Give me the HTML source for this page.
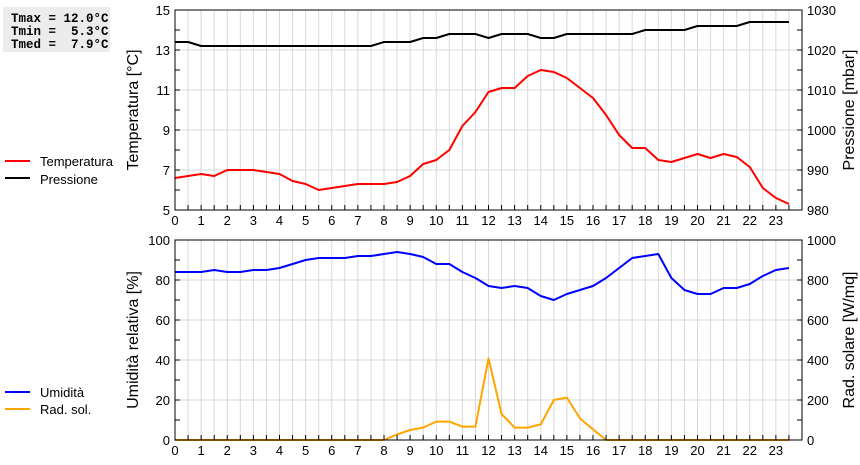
<!DOCTYPE html>
<html><head><meta charset="utf-8"><style>
body{margin:0;background:#fff;width:860px;height:460px;overflow:hidden;font-family:"Liberation Sans",sans-serif}
svg text{font-family:"Liberation Sans",sans-serif}
</style></head><body>
<svg id="c" width="860" height="460" xmlns="http://www.w3.org/2000/svg">
<rect x="3" y="7" width="107" height="45" fill="#ececec"/>
<text x="11" y="22" font-weight="bold" font-size="12.5" style="font-family:'Liberation Mono',monospace;white-space:pre">Tmax = 12.0°C</text>
<text x="11" y="35" font-weight="bold" font-size="12.5" style="font-family:'Liberation Mono',monospace;white-space:pre">Tmin =  5.3°C</text>
<text x="11" y="48" font-weight="bold" font-size="12.5" style="font-family:'Liberation Mono',monospace;white-space:pre">Tmed =  7.9°C</text>
<g>
<line x1="5" y1="161" x2="30" y2="161" stroke="#f00" stroke-width="2"/><text x="40" y="166" font-size="13">Temperatura</text>
<line x1="5" y1="178" x2="30" y2="178" stroke="#000" stroke-width="2"/><text x="40" y="184" font-size="13">Pressione</text>
</g>
<g>
<line x1="5" y1="392" x2="30" y2="392" stroke="#00f" stroke-width="2"/><text x="40" y="397" font-size="13">Umidità</text>
<line x1="5" y1="409" x2="30" y2="409" stroke="#ffa500" stroke-width="2"/><text x="40" y="414" font-size="13">Rad. sol.</text>
</g>
</svg>
<script>
const hours=[0,0.5,1,1.5,2,2.5,3,3.5,4,4.5,5,5.5,6,6.5,7,7.5,8,8.5,9,9.5,10,10.5,11,11.5,12,12.5,13,13.5,14,14.5,15,15.5,16,16.5,17,17.5,18,18.5,19,19.5,20,20.5,21,21.5,22,22.5,23,23.5];
const temperature=[6.6,6.7,6.8,6.7,7.0,7.0,7.0,6.9,6.8,6.45,6.3,6.0,6.1,6.2,6.3,6.3,6.3,6.4,6.7,7.3,7.5,8.0,9.2,9.9,10.9,11.1,11.1,11.7,12.0,11.9,11.6,11.1,10.6,9.75,8.75,8.1,8.1,7.5,7.4,7.6,7.8,7.6,7.8,7.65,7.15,6.1,5.6,5.3];
const pressure=[1022,1022,1021,1021,1021,1021,1021,1021,1021,1021,1021,1021,1021,1021,1021,1021,1022,1022,1022,1023,1023,1024,1024,1024,1023,1024,1024,1024,1023,1023,1024,1024,1024,1024,1024,1024,1025,1025,1025,1025,1026,1026,1026,1026,1027,1027,1027,1027];
const humidity=[84,84,84,85,84,84,85,85,86,88,90,91,91,91,92,92,93,94,93,91.5,88,88,84,81,77,76,77,76,72,70,73,75,77,81,86,91,92,93,81,75,73,73,76,76,78,82,85,86];
const radiation=[0,0,0,0,0,0,0,0,0,0,0,0,0,0,0,0,0,28,50,62,92,92,67,67,408,130,62,62,78,200,212,108,53,0,0,0,0,0,0,0,0,0,0,0,0,0,0,0];
const xTicks=[0,1,2,3,4,5,6,7,8,9,10,11,12,13,14,15,16,17,18,19,20,21,22,23];
const tTicks=[5,7,9,11,13,15], pTicks=[980,990,1000,1010,1020,1030];
const hTicks=[0,20,40,60,80,100], rTicks=[0,200,400,600,800,1000];
const NS="http://www.w3.org/2000/svg", svg=document.getElementById('c');
const L=175,R=802;
const X=h=>L+(h/24)*(R-L);
function el(t,a,p){const e=document.createElementNS(NS,t);for(const k in a)e.setAttribute(k,a[k]);(p||svg).appendChild(e);return e;}
function panel(name,top,bot,lmin,lmax,lstep,lTicks,rmin,rmax,rTickArr,rstep,lTitle,rTitle,series){
  const g=el('g',{});
  
  
  const Yl=v=>bot-(v-lmin)/(lmax-lmin)*(bot-top), Yr=v=>bot-(v-rmin)/(rmax-rmin)*(bot-top);
  for(let h=0.5;h<24;h+=0.5){el('line',{x1:X(h),x2:X(h),y1:top,y2:bot,stroke:'#d8d8d8','stroke-width':1},g);}
  lTicks.forEach(v=>{if(v>lmin&&v<lmax)el('line',{x1:L,x2:R,y1:Yl(v),y2:Yl(v),stroke:'#d8d8d8'},g);});
  series.forEach(s=>{const Y=s.axis==='l'?Yl:Yr;
    const p=el('polyline',{points:hours.map((h,i)=>X(h)+','+Y(s.data[i])).join(' '),fill:'none',stroke:s.color,'stroke-width':2,'stroke-linejoin':'round'},g);
    
    });
  for(let v=lmin;v<=lmax;v+=lstep){el('line',{x1:L,x2:L+5,y1:Yl(v),y2:Yl(v),stroke:'#000'},g);}
  for(let v=rmin;v<=rmax;v+=rstep){el('line',{x1:R-5,x2:R,y1:Yr(v),y2:Yr(v),stroke:'#000'},g);}
  for(let h=0;h<24;h+=0.5){el('line',{x1:X(h),x2:X(h),y1:bot-5,y2:bot,stroke:'#000'},g);}
  lTicks.forEach(v=>{const t=el('text',{x:L-5,y:Yl(v)+5,'text-anchor':'end','font-size':13},g);t.textContent=v;});
  rTickArr.forEach(v=>{const t=el('text',{x:R+5,y:Yr(v)+5,'font-size':13},g);t.textContent=v;});
  xTicks.forEach(v=>{const t=el('text',{x:X(v),y:bot+15,'text-anchor':'middle','font-size':13},g);t.textContent=v;});
  const lt=el('text',{x:0,y:0,'text-anchor':'middle','font-size':16,transform:`translate(${L-37},${(top+bot)/2}) rotate(-90)`},g);lt.textContent=lTitle;
  
  
  const rt=el('text',{x:0,y:0,'text-anchor':'middle','font-size':16,transform:`translate(${R+52},${(top+bot)/2}) rotate(-90)`},g);rt.textContent=rTitle;
  
  
  el('rect',{x:L,y:top,width:R-L,height:bot-top,fill:'none',stroke:'#000','stroke-width':1},g);
}
panel('top-panel',10,210,5,15,1,tTicks,980,1030,pTicks,5,'Temperatura [°C]','Pressione [mbar]',
  [{data:pressure,color:'#000',axis:'r',name:'pressure-line'},{data:temperature,color:'#f00',axis:'l',name:'temperature-line'}]);
panel('bottom-panel',240,440,0,100,10,hTicks,0,1000,rTicks,100,'Umidità relativa [%]','Rad. solare [W/mq]',
  [{data:radiation,color:'#ffa500',axis:'r',name:'radiation-line'},{data:humidity,color:'#00f',axis:'l',name:'humidity-line'}]);
</script>
</body></html>
